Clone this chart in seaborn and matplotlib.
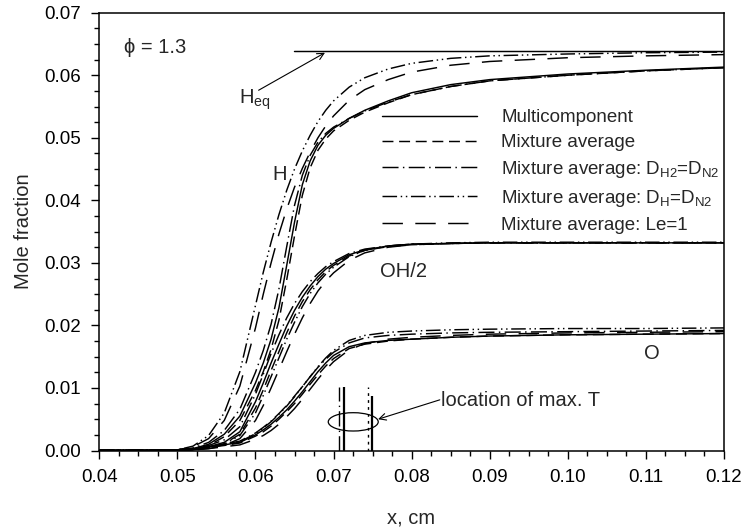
import matplotlib
matplotlib.use("Agg")
import matplotlib.pyplot as plt
from matplotlib.patches import Ellipse
from matplotlib.ticker import MultipleLocator, FormatStrFormatter
import seaborn as sns
import pandas as pd

# ---------------- data ----------------
x_grid = [0.040, 0.050, 0.052, 0.054, 0.056, 0.058, 0.060, 0.061, 0.062, 0.063,
          0.064, 0.065, 0.066, 0.067, 0.068, 0.069, 0.070, 0.072, 0.074, 0.077,
          0.080, 0.085, 0.090, 0.100, 0.110, 0.120]

h_multi = [0, 0.0000, 0.0003, 0.0010, 0.0026, 0.0055, 0.0108, 0.0140, 0.0178, 0.0228,
           0.0296, 0.0365, 0.0425, 0.0463, 0.0488, 0.0504, 0.0515, 0.0531, 0.0544, 0.0559,
           0.0572, 0.0585, 0.0593, 0.0602, 0.0608, 0.0613]
h_mix = [0, 0.0000, 0.0002, 0.0008, 0.0022, 0.0048, 0.0096, 0.0126, 0.0162, 0.0208,
         0.0273, 0.0343, 0.0408, 0.0452, 0.0480, 0.0498, 0.0511, 0.0528, 0.0541, 0.0556,
         0.0569, 0.0582, 0.0591, 0.0600, 0.0607, 0.0612]
h_dh2 = [0, 0.0001, 0.0004, 0.0013, 0.0032, 0.0066, 0.0125, 0.0160, 0.0202, 0.0258,
         0.0326, 0.0392, 0.0440, 0.0472, 0.0493, 0.0507, 0.0517, 0.0531, 0.0543, 0.0557,
         0.0569, 0.0582, 0.0591, 0.0600, 0.0607, 0.0612]
h_dh = [0, 0.0001, 0.0007, 0.0024, 0.0060, 0.0126, 0.0232, 0.0285, 0.0333, 0.0377,
        0.0416, 0.0450, 0.0479, 0.0504, 0.0526, 0.0544, 0.0559, 0.0581, 0.0596, 0.0610,
        0.0619, 0.0627, 0.0631, 0.0634, 0.0636, 0.0637]
h_le1 = [0, 0.0001, 0.0006, 0.0019, 0.0048, 0.0103, 0.0196, 0.0250, 0.0300, 0.0346,
         0.0386, 0.0421, 0.0451, 0.0477, 0.0500, 0.0519, 0.0535, 0.0560, 0.0577, 0.0593,
         0.0605, 0.0616, 0.0622, 0.0628, 0.0631, 0.0633]

oh_multi = [0, 0.0000, 0.0002, 0.0006, 0.0013, 0.0030, 0.0078, 0.0108, 0.0140, 0.0170,
            0.0199, 0.0224, 0.0245, 0.0263, 0.0278, 0.0290, 0.0299, 0.0313, 0.0321, 0.0327,
            0.0330, 0.0331, 0.0332, 0.0332, 0.0332, 0.0332]
oh_mix = [0, 0.0000, 0.0001, 0.0005, 0.0011, 0.0026, 0.0068, 0.0097, 0.0128, 0.0158,
          0.0188, 0.0215, 0.0238, 0.0257, 0.0273, 0.0286, 0.0296, 0.0311, 0.0320, 0.0326,
          0.0329, 0.0331, 0.0332, 0.0332, 0.0332, 0.0332]
oh_dh2 = [0, 0.0001, 0.0003, 0.0008, 0.0017, 0.0038, 0.0090, 0.0122, 0.0155, 0.0185,
          0.0212, 0.0235, 0.0254, 0.0270, 0.0283, 0.0294, 0.0302, 0.0315, 0.0322, 0.0327,
          0.0330, 0.0331, 0.0332, 0.0332, 0.0332, 0.0332]
oh_dh = [0, 0.0000, 0.0001, 0.0004, 0.0010, 0.0024, 0.0060, 0.0088, 0.0118, 0.0148,
         0.0178, 0.0205, 0.0230, 0.0251, 0.0268, 0.0282, 0.0293, 0.0310, 0.0320, 0.0327,
         0.0330, 0.0332, 0.0333, 0.0333, 0.0333, 0.0333]
oh_le1 = [0, 0.0000, 0.0001, 0.0003, 0.0008, 0.0019, 0.0048, 0.0072, 0.0100, 0.0129,
          0.0158, 0.0186, 0.0212, 0.0235, 0.0255, 0.0271, 0.0284, 0.0304, 0.0316, 0.0325,
          0.0329, 0.0331, 0.0332, 0.0332, 0.0332, 0.0332]

o_multi = [0, 0.0001, 0.0003, 0.0006, 0.0009, 0.0013, 0.0025, 0.0033, 0.0042, 0.0053,
           0.0065, 0.0079, 0.0094, 0.0110, 0.0126, 0.0140, 0.0152, 0.0166, 0.0172, 0.0176,
           0.0178, 0.0181, 0.0183, 0.0185, 0.0186, 0.0187]
o_mix = [0, 0.0001, 0.0002, 0.0005, 0.0008, 0.0012, 0.0023, 0.0030, 0.0039, 0.0050,
         0.0062, 0.0075, 0.0090, 0.0106, 0.0121, 0.0135, 0.0147, 0.0163, 0.0170, 0.0175,
         0.0178, 0.0181, 0.0183, 0.0185, 0.0186, 0.0187]
o_dh2 = [0, 0.0001, 0.0003, 0.0006, 0.0010, 0.0015, 0.0028, 0.0037, 0.0047, 0.0059,
         0.0072, 0.0087, 0.0102, 0.0118, 0.0133, 0.0146, 0.0157, 0.0172, 0.0180, 0.0184,
         0.0186, 0.0188, 0.0189, 0.0190, 0.0191, 0.0192]
o_dh = [0, 0.0001, 0.0002, 0.0005, 0.0009, 0.0014, 0.0027, 0.0036, 0.0046, 0.0058,
        0.0071, 0.0086, 0.0102, 0.0118, 0.0134, 0.0148, 0.0160, 0.0176, 0.0184, 0.0189,
        0.0191, 0.0193, 0.0194, 0.0195, 0.0195, 0.0196]
o_le1 = [0, 0.0000, 0.0001, 0.0003, 0.0006, 0.0009, 0.0018, 0.0024, 0.0032, 0.0042,
         0.0054, 0.0067, 0.0082, 0.0098, 0.0114, 0.0129, 0.0142, 0.0161, 0.0171, 0.0178,
         0.0181, 0.0184, 0.0186, 0.0188, 0.0189, 0.0190]

h_eq_x = [0.0649, 0.120]
h_eq_y = [0.0638, 0.0638]

tmax_x = [0.07074, 0.07134, 0.07437, 0.07488]
tmax_top = [0.0102, 0.0102, 0.0102, 0.0087]

model_labels = ["Multicomponent",
                "Mixture average",
                r"Mixture average: D$_{\mathrm{H2}}$=D$_{\mathrm{N2}}$",
                r"Mixture average: D$_{\mathrm{H}}$=D$_{\mathrm{N2}}$",
                "Mixture average: Le=1"]

x_ticks = [0.04, 0.05, 0.06, 0.07, 0.08, 0.09, 0.10, 0.11, 0.12]
y_ticks = [0.00, 0.01, 0.02, 0.03, 0.04, 0.05, 0.06, 0.07]

# ---------------- style ----------------
sns.set_theme(style="ticks")
plt.rcParams["font.family"] = ["Liberation Sans", "DejaVu Sans"]
plt.rcParams["mathtext.fontset"] = "custom"
plt.rcParams["mathtext.rm"] = "Liberation Sans"
plt.rcParams["mathtext.it"] = "Liberation Sans:italic"
plt.rcParams["mathtext.bf"] = "Liberation Sans:bold"
plt.rcParams["xtick.bottom"] = True
plt.rcParams["ytick.left"] = True
plt.rcParams["xtick.minor.visible"] = True
plt.rcParams["ytick.minor.visible"] = True
plt.rcParams["xtick.color"] = "black"
plt.rcParams["ytick.color"] = "black"

FS = 13.5
FS_LAB = 14.5
styles = ["-", (0, (7.5, 3.9)), (0, (11, 3, 1, 3)), (0, (10, 2.5, 1, 2.5, 1, 2.5)), (0, (14, 8.5))]
LW = 1.05

fig = plt.figure(figsize=(7.45, 5.31), dpi=100)
ax = fig.add_axes([0.1333, 0.1516, 0.8385, 0.8245])

species = [
    [h_multi, h_mix, h_dh2, h_dh, h_le1],
    [oh_multi, oh_mix, oh_dh2, oh_dh, oh_le1],
    [o_multi, o_mix, o_dh2, o_dh, o_le1],
]

legend_handles = []
for si, group in enumerate(species):
    for mi, ys in enumerate(group):
        df = pd.DataFrame({"x": x_grid, "y": ys})
        sns.lineplot(data=df, x="x", y="y", ax=ax, color="black", linewidth=LW,
                     linestyle=styles[mi], errorbar=None, sort=False)
        if si == 0:
            ln = ax.lines[-1]
            ln.set_label(model_labels[mi])
            legend_handles.append(ln)

# H equilibrium line
sns.lineplot(x=h_eq_x, y=h_eq_y, ax=ax, color="black", linewidth=LW, errorbar=None)

# location of max T markers
tstyles = [(0, (11, 3, 1, 3)), "-", (0, (2, 3)), "-"]
twidths = [1.0, 1.6, 1.0, 1.6]
for xv, top, st, w in zip(tmax_x, tmax_top, tstyles, twidths):
    ax.vlines(xv, 0, top, colors="black", linestyles=[st], linewidth=w)

ax.add_patch(Ellipse((0.07252, 0.00458), 0.0064, 0.00293, fill=False,
                     edgecolor="black", linewidth=0.9))
ax.annotate("", xy=(0.0757, 0.0050), xytext=(0.0836, 0.0081),
            arrowprops=dict(arrowstyle="->", color="black", lw=0.8, shrinkA=0, shrinkB=0))
ax.text(0.0838, 0.0071, "location of max. T", fontsize=FS_LAB, va="baseline", ha="left")

ax.annotate("", xy=(0.0689, 0.0636), xytext=(0.0604, 0.0576),
            arrowprops=dict(arrowstyle="->", color="black", lw=0.8, shrinkA=0, shrinkB=0))
ax.text(0.0579, 0.0554, r"H$_{\mathrm{eq}}$", fontsize=FS_LAB, va="baseline", ha="left")
ax.text(0.0431, 0.0644, "ϕ = 1.3", fontsize=FS_LAB, va="center", ha="left")
ax.text(0.0621, 0.0433, "H", fontsize=FS_LAB, va="baseline", ha="left")
ax.text(0.0759, 0.0278, "OH/2", fontsize=FS_LAB, va="baseline", ha="left")
ax.text(0.1098, 0.0147, "O", fontsize=FS_LAB, va="baseline", ha="left")

leg = ax.legend(handles=legend_handles, loc="upper left",
                bbox_to_anchor=(0.4525, 0.78), frameon=False, fontsize=FS,
                handlelength=5.05, handletextpad=1.3, labelspacing=0.42,
                borderpad=0, borderaxespad=0)

ax.set_xlim(0.04, 0.12)
ax.set_ylim(0.0, 0.07)
ax.set_xticks(x_ticks)
ax.set_yticks(y_ticks)
ax.xaxis.set_minor_locator(MultipleLocator(0.0025))
ax.yaxis.set_minor_locator(MultipleLocator(0.0025))
ax.xaxis.set_major_formatter(FormatStrFormatter("%.2f"))
ax.yaxis.set_major_formatter(FormatStrFormatter("%.2f"))
ax.tick_params(which="both", bottom=True, left=True, top=False, right=False)
ax.tick_params(which="major", direction="out", length=6, width=1.0, labelsize=FS, pad=7.5, color="black")
ax.tick_params(which="minor", direction="out", length=3.5, width=1.0, color="black")
for sp in ax.spines.values():
    sp.set_visible(True)
    sp.set_linewidth(1.1)
    sp.set_color("black")

ax.set_xlabel("x, cm", fontsize=FS_LAB)
ax.set_ylabel("Mole fraction", fontsize=FS_LAB)
ax.xaxis.set_label_coords(0.4987, -0.132)
ax.yaxis.set_label_coords(-0.106, 0.5)
ax.grid(False)

fig.savefig("out.png", dpi=100, facecolor="white")
